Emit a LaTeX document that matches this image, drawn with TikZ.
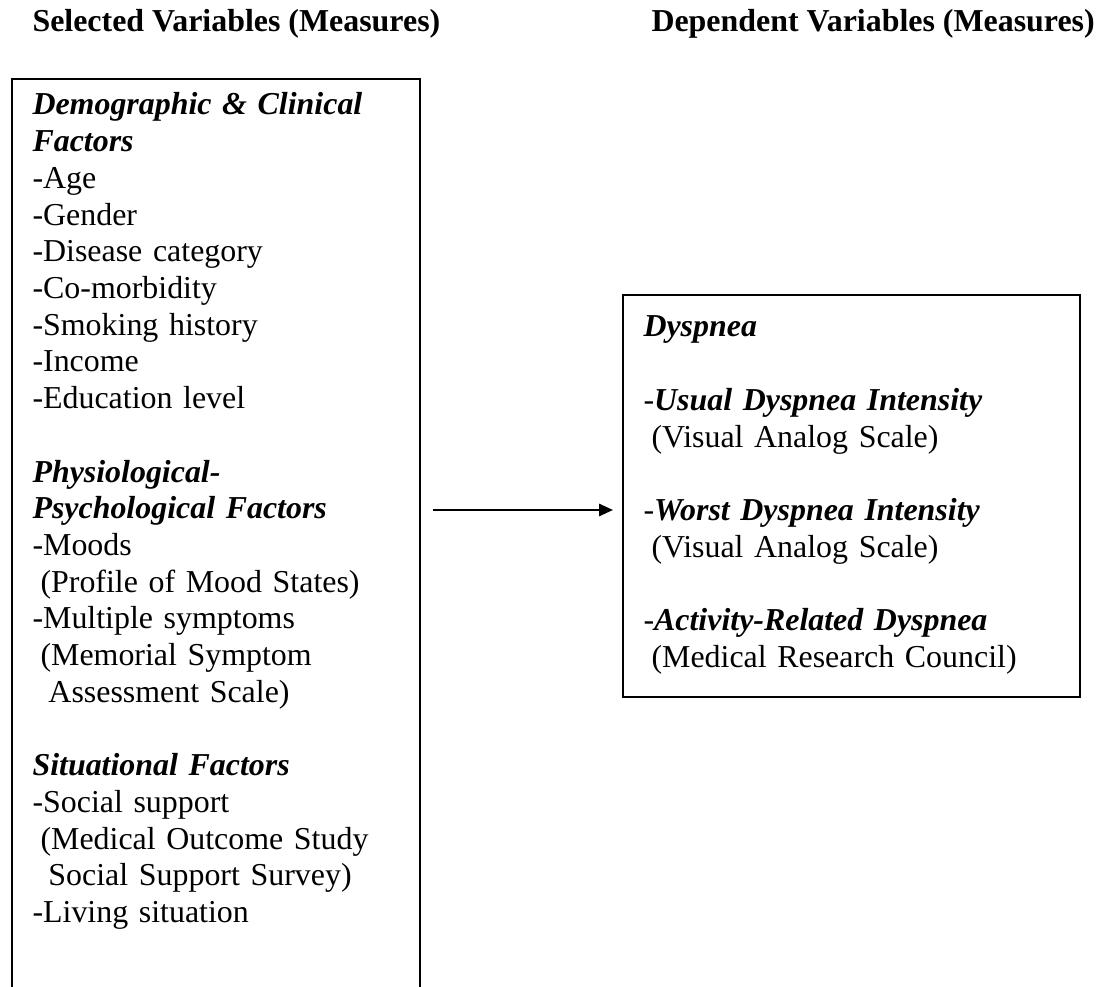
\documentclass[tikz,border=0pt]{standalone}
\usepackage{fontspec}
\setmainfont{Liberation Serif}
\usetikzlibrary{fit,arrows.meta}
\newcommand{\lsp}{\hspace*{0.25em}}
\newcommand{\bi}[1]{\textbf{\textit{#1}}}
\tikzset{
  hdr/.style={anchor=base west,inner sep=0pt,font=\fontsize{12}{13.8}\selectfont\bfseries},
  txt/.style={anchor=base west,inner sep=0pt,align=left,font=\fontsize{12}{13.8}\selectfont},
  box/.style={draw,line width=0.75pt,inner sep=0pt},
  arr/.style={line width=0.75pt,-{Triangle[length=5.2pt,width=4.6pt]}}
}
\begin{document}
\begin{tikzpicture}[x=0.376pt,y=-0.376pt]
      \useasboundingbox (0,0) rectangle (1118,987);
      \node[hdr] (selhdr) at (32,32) {Selected Variables (Measures)};
      \node[hdr] (dephdr) at (651,32) {Dependent Variables (Measures)};
      \coordinate (s1) at (12,79);
      \coordinate (s2) at (420,1010);
      \coordinate (d1) at (623,295);
      \coordinate (d2) at (1080,697);
      \node[box,fit=(s1)(s2)] (selbox) {};
      \node[box,fit=(d1)(d2)] (dysbox) {};
      \node[txt,text width=145pt] (selvars) at (32,115) {%
        \bi{Demographic \& Clinical}\\
        \bi{Factors}\\
        -Age\\
        -Gender\\
        -Disease category\\
        -Co-morbidity\\
        -Smoking history\\
        -Income\\
        -Education level\\[13.8pt]
        \bi{Physiological-}\\
        \bi{Psychological Factors}\\
        -Moods\\
        \lsp(Profile of Mood States)\\
        -Multiple symptoms\\
        \lsp(Memorial Symptom\\
        \lsp\lsp Assessment Scale)\\[13.8pt]
        \bi{Situational Factors}\\
        -Social support\\
        \lsp(Medical Outcome Study\\
        \lsp\lsp Social Support Survey)\\
        -Living situation};
      \node[txt,text width=160pt] (depvars) at (643,337) {%
        \bi{Dyspnea}\\[13.8pt]
        -\bi{Usual Dyspnea Intensity}\\
        \lsp(Visual Analog Scale)\\[13.8pt]
        -\bi{Worst Dyspnea Intensity}\\
        \lsp(Visual Analog Scale)\\[13.8pt]
        -\bi{Activity-Related Dyspnea}\\
        \lsp(Medical Research Council)};
      \coordinate (arrowy) at (0,510);
      \draw[arr] ([xshift=4.5pt]selbox.east |- arrowy) -- ([xshift=-3.4pt]dysbox.west |- arrowy);
    \end{tikzpicture}
\end{document}
